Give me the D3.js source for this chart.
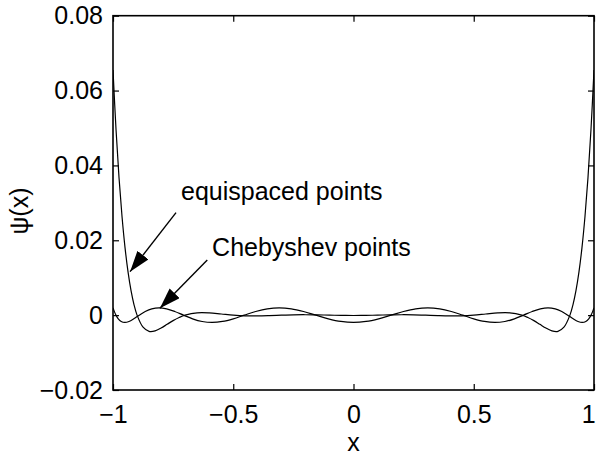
<!DOCTYPE html>
<html><head><meta charset="utf-8">
<script src="https://cdn.jsdelivr.net/npm/d3@7"></script>
<style>
body{margin:0;background:#fff}
svg{display:block}
text{font-family:"Liberation Sans",Arial,Helvetica,sans-serif;fill:#000}
</style>
</head><body>
<svg id="c" width="597" height="456"></svg>
<script>
// ---- data ----
const equiX = [-1, -0.9875, -0.975, -0.9625, -0.95, -0.9375, -0.925, -0.9125, -0.9, -0.875, -0.85, -0.825, -0.8, -0.775, -0.75, -0.725, -0.7, -0.65, -0.6, -0.55, -0.5, -0.45, -0.4, -0.35, -0.3, -0.25, -0.2, -0.15, -0.1, -0.05, 0, 0.05, 0.1, 0.15, 0.2, 0.25, 0.3, 0.35, 0.4, 0.45, 0.5, 0.55, 0.6, 0.65, 0.7, 0.725, 0.75, 0.775, 0.8, 0.825, 0.85, 0.875, 0.9, 0.9125, 0.925, 0.9375, 0.95, 0.9625, 0.975, 0.9875, 1];
const equiY = [0.06547, 0.04964, 0.03674, 0.02634, 0.01805, 0.01155, 0.00654, 0.00276, 0, -0.00322, -0.00433, -0.00421, -0.00345, -0.00245, -0.00146, -0.00063, 0, 0.00062, 0.00061, 0.00031, 0, -0.00018, -0.00020, -0.00012, 0, 0.00009, 0.00011, 0.00007, 0, -0.00006, -0.00009, -0.00006, 0, 0.00007, 0.00011, 0.00009, 0, -0.00012, -0.00020, -0.00018, 0, 0.00031, 0.00061, 0.00062, 0, -0.00063, -0.00146, -0.00245, -0.00345, -0.00421, -0.00433, -0.00322, 0, 0.00276, 0.00654, 0.01155, 0.01805, 0.02634, 0.03674, 0.04964, 0.06547];

const chebX = [-1, -0.99863, -0.99452, -0.98769, -0.97815, -0.96593, -0.95106, -0.93358, -0.91355, -0.89101, -0.86603, -0.83867, -0.80902, -0.77715, -0.74314, -0.70711, -0.66913, -0.62932, -0.58779, -0.54464, -0.5, -0.45399, -0.40674, -0.35837, -0.30902, -0.25882, -0.20791, -0.15643, -0.10453, -0.05234, 0, 0.05234, 0.10453, 0.15643, 0.20791, 0.25882, 0.30902, 0.35837, 0.40674, 0.45399, 0.5, 0.54464, 0.58779, 0.62932, 0.66913, 0.70711, 0.74314, 0.77715, 0.80902, 0.83867, 0.86603, 0.89101, 0.91355, 0.93358, 0.95106, 0.96593, 0.97815, 0.98769, 0.99452, 0.99863, 1];
const chebY = [0.00195, 0.00169, 0.00098, 0, -0.00098, -0.00169, -0.00195, -0.00169, -0.00098, 0, 0.00098, 0.00169,
               0.00195, 0.00169, 0.00098, 0, -0.00098, -0.00169, -0.00195, -0.00169, -0.00098, 0, 0.00098, 0.00169,
               0.00195, 0.00169, 0.00098, 0, -0.00098, -0.00169, -0.00195, -0.00169, -0.00098, 0, 0.00098, 0.00169,
               0.00195, 0.00169, 0.00098, 0, -0.00098, -0.00169, -0.00195, -0.00169, -0.00098, 0, 0.00098, 0.00169,
               0.00195, 0.00169, 0.00098, 0, -0.00098, -0.00169, -0.00195, -0.00169, -0.00098, 0, 0.00098, 0.00169,
               0.00195];

const xTicks = [-1, -0.5, 0, 0.5, 1];
const xTickLabels = ["\u22121", "\u22120.5", "0", "0.5", "1"];
const yTicks = [-0.02, 0, 0.02, 0.04, 0.06, 0.08];
const yTickLabels = ["\u22120.02", "0", "0.02", "0.04", "0.06", "0.08"];

const annotations = [
  {text: "equispaced points", tx: -0.717, ty: 0.03076, x1: -0.738, y1: 0.02737, x2: -0.929, y2: 0.01161},
  {text: "Chebyshev points",  tx: -0.588, ty: 0.01580, x1: -0.608, y1: 0.01474, x2: -0.805, y2: 0.00183}
];

// ---- layout ----
const W = 597, H = 456;
const L = 113, R = 594, T = 15.7, B = 390;
const FS = 25;

const svg = d3.select("#c");
svg.append("rect").attr("width", W).attr("height", H).attr("fill", "#fff");

const x = d3.scaleLinear().domain([-1, 1]).range([L, R]);
const y = d3.scaleLinear().domain([-0.02, 0.08]).range([B, T]);

function styleAxis(g) {
  g.select(".domain").remove();
  g.selectAll(".tick line").attr("stroke", "#000").attr("stroke-width", 1.2);
  g.selectAll("text").attr("font-size", FS).attr("font-family", '"Liberation Sans",Arial,sans-serif').attr("fill", "#000");
  g.attr("font-size", null).attr("font-family", null);
}

const gx = svg.append("g").attr("transform", `translate(0,${B})`)
  .call(d3.axisBottom(x).tickValues(xTicks).tickFormat((d, i) => xTickLabels[i]).tickSizeInner(-6).tickSizeOuter(0).tickPadding(15))
  .call(styleAxis);
// keep the last label inside the picture
gx.selectAll(".tick text").filter(d => d === 1).attr("text-anchor", "end").attr("dx", "0.05em");

svg.append("g").attr("transform", `translate(0,${T})`)
  .call(d3.axisTop(x).tickValues(xTicks).tickFormat("").tickSizeInner(-6).tickSizeOuter(0))
  .call(styleAxis);
svg.append("g").attr("transform", `translate(${L},0)`)
  .call(d3.axisLeft(y).tickValues(yTicks).tickFormat((d, i) => yTickLabels[i]).tickSizeInner(-6).tickSizeOuter(0).tickPadding(10))
  .call(styleAxis);
svg.append("g").attr("transform", `translate(${R},0)`)
  .call(d3.axisRight(y).tickValues(yTicks).tickFormat("").tickSizeInner(-6).tickSizeOuter(0))
  .call(styleAxis);

// frame
svg.append("rect").attr("x", L).attr("y", T).attr("width", R - L).attr("height", B - T)
  .attr("fill", "none").attr("stroke", "#000").attr("stroke-width", 1.6);

// curves
const line = d3.line().x(d => x(d[0])).y(d => y(d[1])).curve(d3.curveCatmullRom.alpha(0.5));
svg.append("clipPath").attr("id", "pc").append("rect")
  .attr("x", L).attr("y", T).attr("width", R - L).attr("height", B - T);
const plot = svg.append("g").attr("clip-path", "url(#pc)");
plot.append("path").attr("d", line(equiX.map((v, i) => [v, equiY[i]])))
  .attr("fill", "none").attr("stroke", "#000").attr("stroke-width", 1.2);
plot.append("path").attr("d", line(chebX.map((v, i) => [v, chebY[i]])))
  .attr("fill", "none").attr("stroke", "#000").attr("stroke-width", 1.2);

// arrow marker
svg.append("defs").append("marker").attr("id", "ah")
  .attr("viewBox", "0 0 21 14").attr("refX", 21).attr("refY", 7)
  .attr("markerWidth", 21).attr("markerHeight", 14).attr("markerUnits", "userSpaceOnUse")
  .attr("orient", "auto")
  .append("path").attr("d", "M0,0 L21,7 L0,14 Z").attr("fill", "#000");

annotations.forEach(a => {
  svg.append("line").attr("x1", x(a.x1)).attr("y1", y(a.y1)).attr("x2", x(a.x2)).attr("y2", y(a.y2))
    .attr("stroke", "#000").attr("stroke-width", 1.4).attr("marker-end", "url(#ah)");
  svg.append("text").attr("x", x(a.tx)).attr("y", y(a.ty)).attr("font-size", FS).text(a.text);
});

// axis titles
svg.append("text").attr("x", (L + R) / 2).attr("y", 451).attr("text-anchor", "middle").attr("font-size", FS).text("x");
svg.append("text").attr("transform", "translate(28,211) rotate(-90)").attr("text-anchor", "middle").attr("font-size", FS).text("ψ(x)");
</script>
</body></html>
